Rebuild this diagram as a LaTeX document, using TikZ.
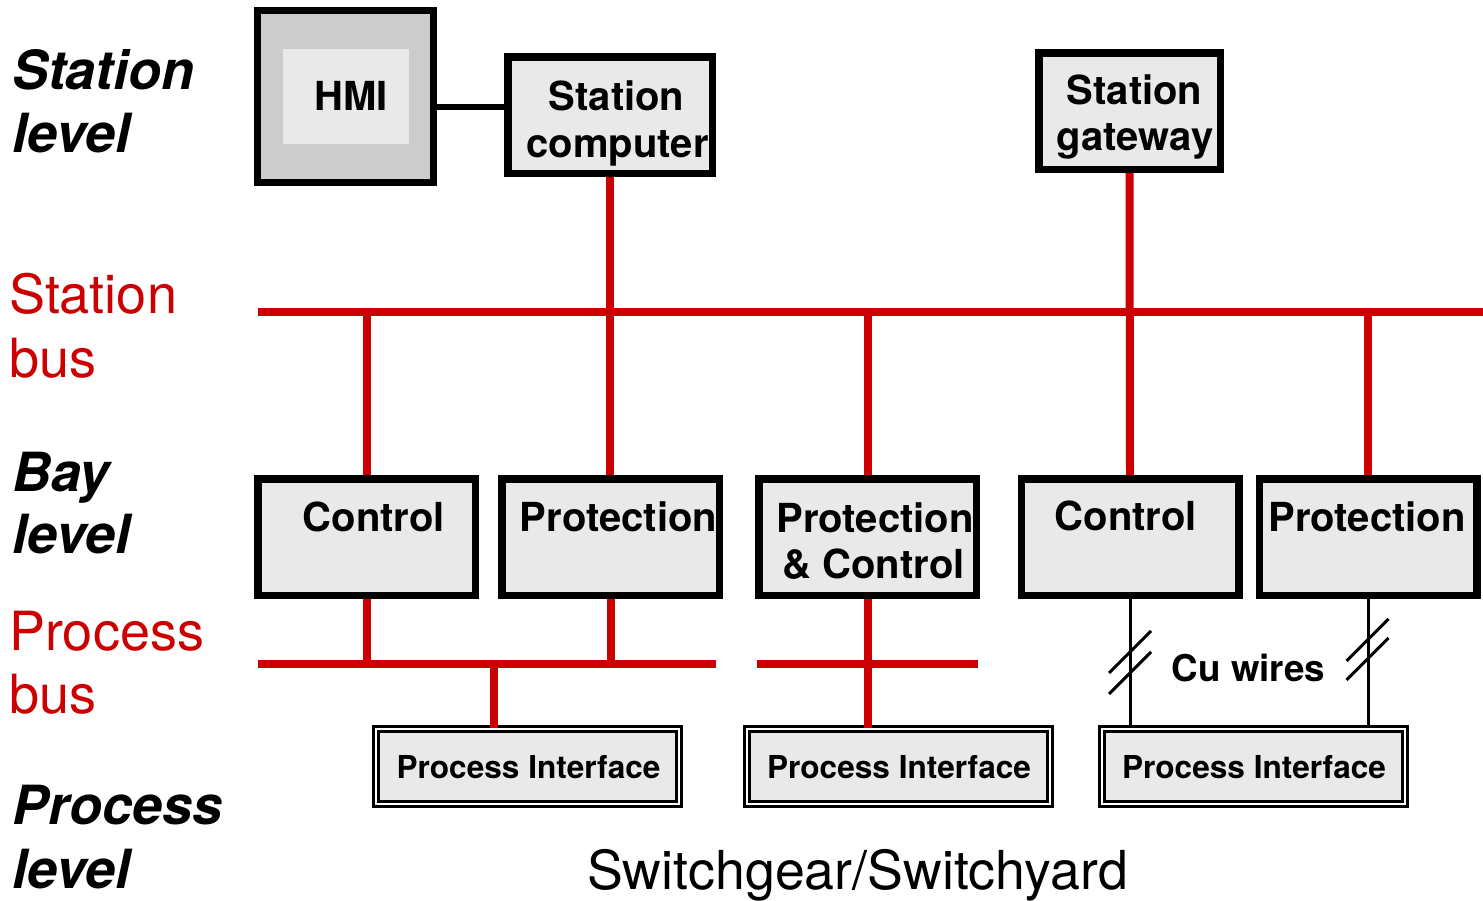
\documentclass[tikz,border=0pt]{standalone}
\usepackage{fontspec}
\setmainfont{TeX Gyre Heros}
\definecolor{busred}{RGB}{204,0,0}
\definecolor{boxgray}{RGB}{233,233,233}
\definecolor{hmigray}{RGB}{204,204,204}
\tikzset{
  box/.style={draw=black, fill=boxgray, line width=7.5pt, rectangle, inner sep=0pt},
  baybox/.style={box, minimum width=217.5pt, minimum height=116.5pt},
  pibox/.style={draw=black, fill=boxgray, line width=3pt, double=white, double distance=2pt,
    rectangle, inner sep=0pt, minimum width=303pt, minimum height=75pt},
  bus/.style={draw=busred, line width=8pt},
  wire/.style={draw=black, line width=3pt},
  lvl/.style={inner sep=0pt, anchor=base west, font=\fontsize{54}{60}\selectfont\bfseries\itshape},
  buslbl/.style={inner sep=0pt, anchor=base west, text=busred, font=\fontsize{54}{60}\selectfont},
  boxtxt/.style={inner sep=0pt, anchor=base, font=\fontsize{40}{44}\selectfont\bfseries},
  pitxt/.style={inner sep=0pt, anchor=base, font=\fontsize{31.6}{34}\selectfont\bfseries},
}
\begin{document}
\begin{tikzpicture}[x=1pt,y=-1pt]
\useasboundingbox (0,0) rectangle (1483,900);

% ---- station level boxes
\node[box, fill=hmigray, minimum width=176pt, minimum height=172pt] (hmi) at (345.5,96.5) {};
\node[fill=boxgray, inner sep=0pt, minimum width=126pt, minimum height=95pt] (hmiin) at (346,96.5) {};
\node[box, minimum width=204.5pt, minimum height=116.5pt] (sc) at (610,115) {};
\node[box, minimum width=181.5pt, minimum height=116.5pt] (sg) at (1129.5,111) {};

% ---- bay level boxes
\node[baybox] (ctl1) at (366.5,537) {};
\node[baybox] (prot1) at (610.5,537) {};
\node[baybox] (pc) at (867.5,537) {};
\node[baybox] (ctl2) at (1130,537) {};
\node[baybox] (prot2) at (1368,537) {};

% ---- process interfaces
\node[pibox] (pi1) at (527.5,766.5) {};
\node[pibox] (pi2) at (898.5,766.5) {};
\node[pibox] (pi3) at (1253.5,766.5) {};

% ---- bus coordinates
\coordinate (sbw) at (258,312);
\coordinate (sbe) at (1483,312);
\coordinate (pb1w) at (258,664);
\coordinate (pb1e) at (716,664);
\coordinate (pb1t) at (494,664);
\coordinate (pb2w) at (757,664);
\coordinate (pb2e) at (978,664);
\coordinate (hmisc) at (470,107);

% ---- HMI to station computer
\draw[line width=6pt] (hmi.east |- hmisc) -- (sc.west |- hmisc);

% ---- station bus
\draw[bus] (sbw) -- (sbe);
\draw[bus] (sc.south) -- (sc.south |- ctl1.north);
\draw[bus] (sg.south) -- (ctl2.north);
\draw[bus] (ctl1.north |- sbw) -- (ctl1.north);
\draw[bus] (pc.north |- sbw) -- (pc.north);
\draw[bus] (prot2.north |- sbw) -- (prot2.north);

% ---- process bus
\draw[bus] (pb1w) -- (pb1e);
\draw[bus] (ctl1.south) -- (ctl1.south |- pb1w);
\draw[bus] (prot1.south) -- (prot1.south |- pb1w);
\draw[bus] (pb1t) -- (pb1t |- pi1.north);
\draw[bus] (pb2w) -- (pb2e);
\draw[bus] (pc.south) -- (pc.south |- pi2.north);

% ---- copper wires
\draw[wire] (ctl2.south) -- (ctl2.south |- pi3.north);
\draw[wire] (prot2.south) -- (prot2.south |- pi3.north);
\coordinate (s1) at (1130,652);
\coordinate (s2) at (1130,673);
\coordinate (s3) at (1367.5,640);
\coordinate (s4) at (1367.5,659);
\foreach \s in {s1,s2,s3,s4}
  \draw[wire] ([shift={(-21,21)}]\s) -- ([shift={(21,-21)}]\s);

% ---- box texts
\node[boxtxt] (thmi) at (351,110) {HMI};
\node[boxtxt] (tsc1) at (616.5,110) {Station};
\node[boxtxt] (tsc2) at (617.5,157) {computer};
\node[boxtxt] (tsg1) at (1134.5,104) {Station};
\node[boxtxt] (tsg2) at (1135,150) {gateway};
\node[boxtxt] (tctl1) at (374,531) {Control};
\node[boxtxt] (tprot1) at (618.5,531) {Protection};
\node[boxtxt] (tpc1) at (875,532) {Protection};
\node[boxtxt] (tpc2) at (873.5,578) {\& Control};
\node[boxtxt] (tctl2) at (1126,530) {Control};
\node[boxtxt] (tprot2) at (1367,531) {Protection};
\node[pitxt] (tpi1) at (528.5,778) {Process Interface};
\node[pitxt] (tpi2) at (899,778) {Process Interface};
\node[pitxt] (tpi3) at (1254,778) {Process Interface};
\node[inner sep=0pt, anchor=base, font=\fontsize{36.8}{40}\selectfont\bfseries] (cu) at (1248.5,681) {Cu wires};
\node[inner sep=0pt, anchor=base, font=\fontsize{53.7}{58}\selectfont] (sw) at (857.5,889) {Switchgear/Switchyard};

% ---- level labels
\node[lvl] (l1a) at (12,89) {Station};
\node[lvl] (l1b) at (12,152) {level};
\node[buslbl] (b1a) at (9,313) {Station};
\node[buslbl] (b1b) at (9,377) {bus};
\node[lvl] (l2a) at (12,491) {Bay};
\node[lvl] (l2b) at (12,553) {level};
\node[buslbl] (b2a) at (9,650) {Process};
\node[buslbl] (b2b) at (9,713) {bus};
\node[lvl] (l3a) at (12,824) {Process};
\node[lvl] (l3b) at (12,888) {level};
\end{tikzpicture}
\end{document}
